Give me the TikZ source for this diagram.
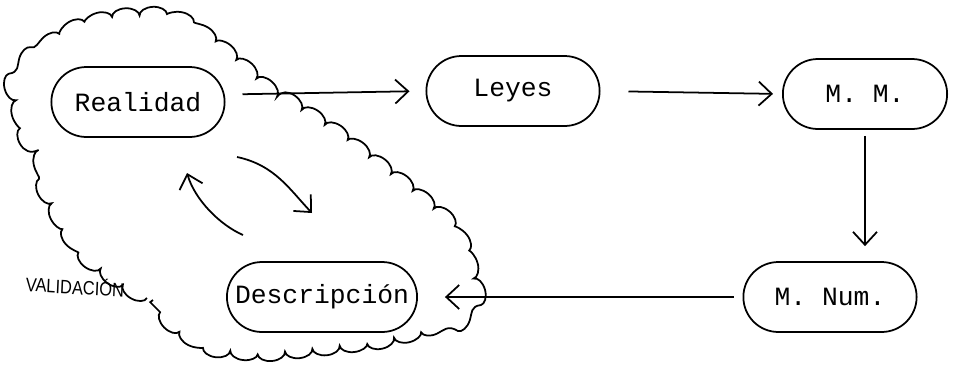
\documentclass[tikz,border=0pt]{standalone}
\usepackage{fontspec}
\setmonofont{Liberation Mono}
\setsansfont{Liberation Sans}
\usetikzlibrary{arrows.meta, shapes.misc, decorations.pathmorphing}

\begin{document}
\begin{tikzpicture}[
    x=0.02cm, y=-0.02cm,
    >={Straight Barb[length=2.6mm, width=4.8mm]},
    line width=1pt,
    pill/.style={rounded rectangle, draw, minimum width=3.7cm, minimum height=1.4cm,
        font=\ttfamily\fontsize{15}{18}\selectfont},
    flow/.style={->},
    scallop/.style={decorate, decoration={bumps, segment length=1.1cm, amplitude=0.16cm}},
]
\useasboundingbox (0,0) rectangle (954,369);
% the cycle of boxes
\node[pill] (realidad) at (138,102) {Realidad};
\node[pill] (leyes) at (513,91) {Leyes};
\node[pill, minimum width=3.52cm] (mm) at (865,94) {M. M.};
\node[pill] (mnum) at (830,297) {M. Num.};
\node[pill] (descr) at (322,297) {Descripción};
% straight arrows between the boxes
\draw[flow, shorten <=0.34cm, shorten >=0.32cm] ([yshift=-2pt]realidad.east |- leyes.west) -- (leyes.west);
\draw[flow, shorten <=0.56cm, shorten >=0.18cm] (leyes.east) -- (mm.west);
\draw[flow, shorten <=0.12cm, shorten >=0.3cm] (mm.south) -- (mm.south |- mnum.north);
\draw[flow, shorten <=0.18cm, shorten >=0.54cm] (mnum.west) -- (descr.east);
% the two curved arrows inside the cloud
\coordinate (va) at (237,157);
\coordinate (vb) at (312,213);
\coordinate (wa) at (243,235);
\coordinate (wb) at (187,173);
\draw[flow] (va) .. controls (275,165) and (290,190) .. (vb);
\draw[flow] (wa) .. controls (220,225) and (195,200) .. (wb);
% cloud round Realidad and Descripcion
\draw[scallop] (147,298) -- (125,286) -- (100,268) -- (68,235) -- (50,200)
    -- (42,165) -- (27,140) -- (16,100) -- (26,64) -- (47,45) -- (76,27)
    -- (112,17) -- (150,15) -- (180,20) -- (205,35) -- (230,55) -- (258,80)
    -- (290,102) -- (328,127) -- (366,155) -- (405,185) -- (440,214)
    -- (464,244) -- (474,280) -- (464,312) -- (426,330) -- (380,341)
    -- (320,348) -- (262,354) -- (214,349) -- (180,332) -- (160,312) -- (153,300);
\node[font=\sffamily\fontsize{11}{13}\selectfont, xscale=0.85, rotate=-3] (valid) at (75,286) {VALIDACIÓN};
\end{tikzpicture}
\end{document}
